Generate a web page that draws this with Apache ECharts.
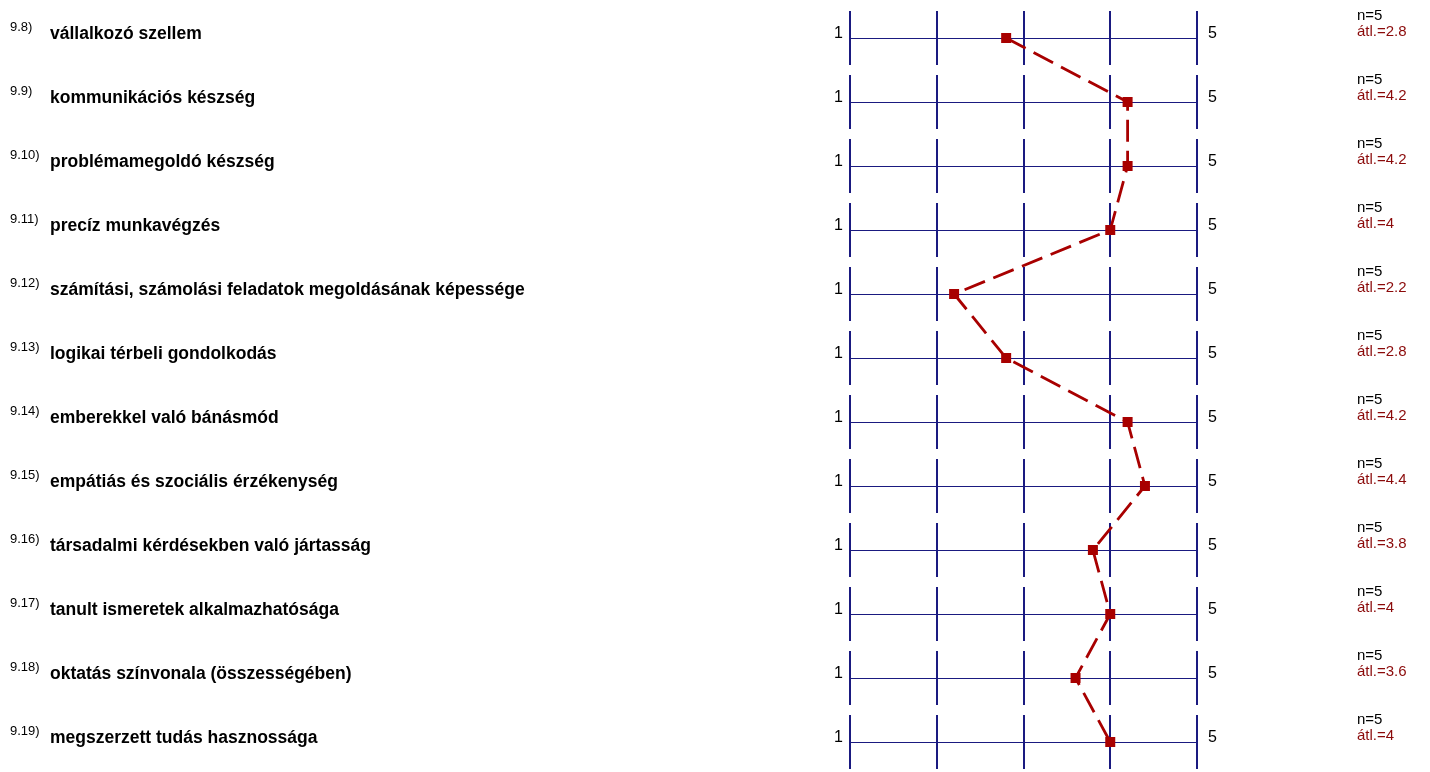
<!DOCTYPE html>
<html lang="hu">
<head>
    <meta charset="UTF-8">
    <title>Értékelés</title>
    <script src="https://cdn.jsdelivr.net/npm/echarts@6/dist/echarts.min.js"></script>
    <style>
        html, body { margin: 0; padding: 0; background: #fff; }
    </style>
</head>
<body>
<div id="main" style="width: 1430px;height: 772px;"></div>
</body>
    <script type="text/javascript">
        // kérdések
        var nums = ['9.8)', '9.9)', '9.10)', '9.11)', '9.12)', '9.13)', '9.14)', '9.15)', '9.16)', '9.17)', '9.18)', '9.19)'];
        var labels = [
            'vállalkozó szellem',
            'kommunikációs készség',
            'problémamegoldó készség',
            'precíz munkavégzés',
            'számítási, számolási feladatok megoldásának képessége',
            'logikai térbeli gondolkodás',
            'emberekkel való bánásmód',
            'empátiás és szociális érzékenység',
            'társadalmi kérdésekben való jártasság',
            'tanult ismeretek alkalmazhatósága',
            'oktatás színvonala (összességében)',
            'megszerzett tudás hasznossága'
        ];
        var averages = [2.8, 4.2, 4.2, 4, 2.2, 2.8, 4.2, 4.4, 3.8, 4, 3.6, 4];
        var counts = [5, 5, 5, 5, 5, 5, 5, 5, 5, 5, 5, 5];
        var scaleTicks = [1, 2, 3, 4, 5];

        var navy = '#1a1a80';
        var red = '#a80000';
        var font = '"Liberation Sans", Arial, sans-serif';

        var myChart = echarts.init(document.getElementById('main'));

        var points = averages.map(function (v, i) { return [v, i]; });

        function baseY(position, label) {
            return {
                type: 'category',
                data: labels,
                inverse: true,
                boundaryGap: false,
                position: position,
                axisLine: { show: false },
                axisTick: { show: false },
                splitLine: { show: false },
                axisLabel: Object.assign({
                    interval: 0,
                    fontFamily: font,
                    color: '#000',
                    verticalAlign: 'bottom'
                }, label)
            };
        }

        var option = {
            backgroundColor: '#fff',
            animation: false,
            grid: { left: 850, right: 233, top: 38, bottom: 30 },
            xAxis: { type: 'value', min: 1, max: 5, show: false },
            yAxis: [
                // kérdés szövege
                baseY('left', {
                    margin: 800,
                    align: 'left',
                    fontSize: 17.5,
                    fontWeight: 'bold',
                    lineHeight: 8
                }),
                // sorszám
                baseY('left', {
                    margin: 840,
                    align: 'left',
                    fontSize: 13,
                    lineHeight: 22,
                    formatter: function (v, i) { return nums[i]; }
                }),
                baseY('left', {
                    margin: 7, fontSize: 16, lineHeight: 9,
                    formatter: function () { return '1'; }
                }),
                baseY('right', {
                    margin: 11, align: 'left', fontSize: 16, lineHeight: 9,
                    formatter: function () { return '5'; }
                }),
                baseY('right', {
                    margin: 160,
                    align: 'left',
                    formatter: function (v, i) {
                        return '{a|n=' + counts[i] + '}\n{b|átl.=' + averages[i] + '}';
                    },
                    rich: {
                        a: { fontSize: 15, fontFamily: font, color: '#000', lineHeight: 20 },
                        b: { fontSize: 15, fontFamily: font, color: '#8b0a0a', lineHeight: 12 }
                    }
                })
            ],
            series: [
                {
                    type: 'custom',
                    yAxisIndex: 0,
                    clip: false,
                    silent: true,
                    encode: { x: 0, y: 1 },
                    data: points,
                    renderItem: function (params, api) {
                        var row = api.value(1);
                        var left = api.coord([scaleTicks[0], row]);
                        var right = api.coord([scaleTicks[scaleTicks.length - 1], row]);
                        var y = Math.round(left[1]) + 0.5;
                        var kids = [{
                            type: 'line',
                            shape: { x1: left[0], y1: y, x2: right[0], y2: y },
                            style: { stroke: navy, lineWidth: 1 }
                        }];
                        scaleTicks.forEach(function (t) {
                            var p = api.coord([t, row]);
                            var x = Math.round(p[0]);
                            kids.push({
                                type: 'line',
                                shape: { x1: x, y1: p[1] - 27, x2: x, y2: p[1] + 27 },
                                style: { stroke: navy, lineWidth: 2 }
                            });
                        });
                        return { type: 'group', children: kids };
                    },
                    z: 1
                },
                {
                    type: 'line',
                    yAxisIndex: 0,
                    data: points,
                    symbol: 'rect',
                    symbolSize: 10,
                    showSymbol: true,
                    itemStyle: { color: red },
                    lineStyle: { color: red, width: 2.8, type: [22, 9] },
                    z: 3
                }
            ]
        };
        myChart.setOption(option);
    </script>
</html>
